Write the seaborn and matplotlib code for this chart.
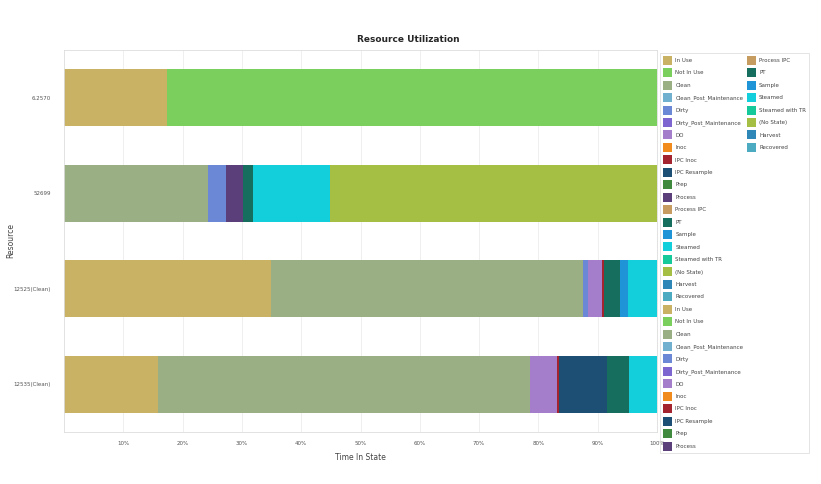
import pandas as pd
import numpy as np
import matplotlib.pyplot as plt
import seaborn as sns
from matplotlib.patches import Patch

resources = ['6.2570', '52699', '12525(Clean)', '12535(Clean)']

states = ['In Use', 'Not In Use', 'Clean', 'Clean_Post_Maintenance', 'Dirty',
          'Dirty_Post_Maintenance', 'DO', 'Inoc', 'IPC Inoc', 'IPC Resample',
          'Prep', 'Process', 'Process IPC', 'PT', 'Sample', 'Steamed',
          'Steamed with TR', '(No State)', 'Harvest', 'Recovered']

state_colors = ['#c9b264', '#7bcf5c', '#9aaf84', '#72b0cf', '#6a88d6',
                '#7d66cf', '#a57ecb', '#f28b1d', '#a3232f', '#1c4f73',
                '#3f8a3f', '#5b3f7b', '#c69c60', '#166e5e', '#1f94d7',
                '#13cfdc', '#16c99b', '#a5bf45', '#2f87b8', '#4cabc0']

# fraction of time in each state, per resource
time_6_2570 = {'In Use': 0.174, 'Not In Use': 0.826}
time_52699 = {'Clean': 0.243, 'Dirty': 0.030, 'Process': 0.029, 'PT': 0.017,
              'Steamed': 0.130, '(No State)': 0.551}
time_12525 = {'In Use': 0.349, 'Clean': 0.526, 'Dirty': 0.009, 'DO': 0.023,
              'IPC Inoc': 0.003, 'PT': 0.027, 'Sample': 0.014, 'Steamed': 0.049}
time_12535 = {'In Use': 0.159, 'Clean': 0.627, 'DO': 0.045, 'IPC Inoc': 0.004,
              'IPC Resample': 0.080, 'PT': 0.038, 'Steamed': 0.047}

data = pd.DataFrame([time_6_2570, time_52699, time_12525, time_12535],
                    index=resources).reindex(columns=states).fillna(0)
cum = data.cumsum(axis=1)

sns.set_style("whitegrid")
plt.rcParams['font.family'] = ['DejaVu Sans']

fig = plt.figure(figsize=(8.21, 4.84), dpi=100)
ax = fig.add_axes([64 / 821, 1 - 432 / 484, 593 / 821, 382 / 484])

# stacked bars: draw cumulative totals from the last state backwards
for state, color in reversed(list(zip(states, state_colors))):
    if data[state].sum() == 0:
        continue
    sns.barplot(x=cum[state].values, y=resources, orient='h', color=color,
                width=0.6, saturation=1, ax=ax, linewidth=0)

ax.set_xlim(0, 1)
ax.set_ylim(3.5, -0.5)
ticks = np.arange(0.1, 1.01, 0.1)
ax.set_xticks(ticks)
ax.set_xticklabels([f'{int(round(t * 100))}%' for t in ticks], fontsize=4, color='#555555')
ax.tick_params(axis='y', labelsize=4, labelcolor='#555555', pad=6)
ax.tick_params(axis='x', pad=3)
ax.grid(axis='x', color='#ececec', linewidth=0.6)
ax.grid(axis='y', visible=False)
for s in ax.spines.values():
    s.set_color('#dddddd')
    s.set_linewidth(0.6)

ax.set_title('Resource Utilization', fontsize=6.5, fontweight='bold', pad=6,
             x=(408 - 64) / 593)
ax.set_xlabel('Time In State', fontsize=5.5, color='#444444', labelpad=5)
ax.set_ylabel('Resource', fontsize=5.5, color='#444444')
ax.yaxis.set_label_coords(-0.083, 0.5)

# legend: states listed twice, 32 rows in first column, 8 in the second
labels = states + states
colors = state_colors + state_colors
handles = [Patch(facecolor=c, edgecolor='none') for c in colors]
blank = [Patch(facecolor='none', edgecolor='none') for _ in range(24)]
leg = fig.legend(handles + blank, labels + [''] * 24, ncol=2,
                 loc='upper left', bbox_to_anchor=(660 / 821, 1 - 53 / 484),
                 borderaxespad=0, fontsize=4, handlelength=1.65, handleheight=2.1,
                 labelspacing=0.63, columnspacing=0.6, handletextpad=0.6,
                 borderpad=0.5, frameon=True, fancybox=False)
leg.get_frame().set_edgecolor('#d8d8d8')
leg.get_frame().set_facecolor('none')
leg.get_frame().set_linewidth(0.6)
for t in leg.get_texts():
    t.set_color('#444444')

plt.savefig('out.png', dpi=100)
